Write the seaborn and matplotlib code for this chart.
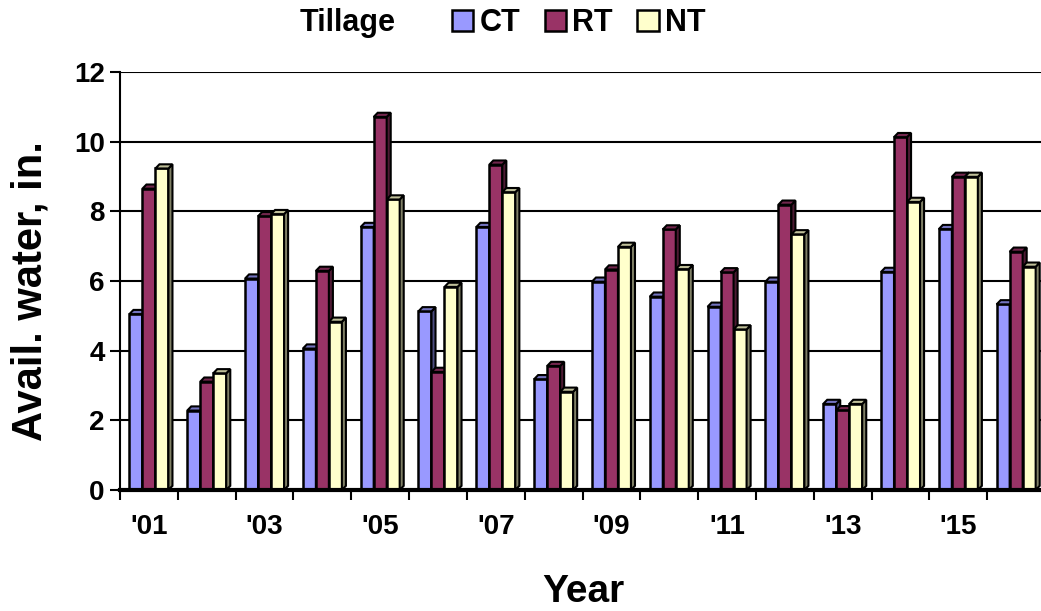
import numpy as np
import pandas as pd
import matplotlib.pyplot as plt
import seaborn as sns
from matplotlib.patches import Patch, Polygon
from matplotlib.ticker import FixedLocator
from matplotlib.colors import to_rgb

# ==============================
# Datos
# ==============================
years = list(range(2001, 2017))
tillage = ['CT', 'RT', 'NT']
ct = [5.05, 2.28, 6.07, 4.06, 7.55, 5.13, 7.55, 3.18, 5.98, 5.55, 5.26, 5.98, 2.47, 6.26, 7.49, 5.33]
rt = [8.65, 3.11, 7.86, 6.29, 10.71, 3.39, 9.34, 3.56, 6.33, 7.48, 6.25, 8.19, 2.29, 10.13, 8.99, 6.84]
nt = [9.23, 3.35, 7.92, 4.83, 8.34, 5.83, 8.55, 2.82, 6.98, 6.34, 4.61, 7.34, 2.47, 8.27, 8.99, 6.41]
year_labels = ["'01", "'03", "'05", "'07", "'09", "'11", "'13", "'15"]

colors = {'CT': '#9999FF', 'RT': '#993366', 'NT': '#FFFFCC'}

df = pd.DataFrame({
    'Year': [str(y) for y in years] * 3,
    'Tillage': ['CT'] * 16 + ['RT'] * 16 + ['NT'] * 16,
    'Water': ct + rt + nt,
})

sns.set_style('white')
plt.rcParams['font.family'] = ['Liberation Sans', 'DejaVu Sans']
plt.rcParams['font.weight'] = 'bold'
plt.rcParams['text.color'] = 'black'
plt.rcParams['xtick.color'] = 'black'
plt.rcParams['ytick.color'] = 'black'
plt.rcParams['axes.labelcolor'] = 'black'

fig = plt.figure(figsize=(10.41, 6.11), dpi=100)
ax = fig.add_axes([120 / 1041, 1 - 490 / 611, 921 / 1041, 418 / 611])

sns.barplot(data=df, x='Year', y='Water', hue='Tillage', hue_order=tillage,
            palette=colors, width=0.675, gap=0, errorbar=None, ax=ax,
            edgecolor='black', linewidth=1.8, saturation=1, legend=False)

ax.set_xlim(-0.5, 15.43)
ax.set_ylim(0, 12)

# efecto 3D: cara superior y lateral de cada barra
dx, dy = 0.07, 0.12
for i, cont in enumerate(ax.containers):
    base = np.array(to_rgb(colors[tillage[i]]))
    for p in cont.patches:
        x, w, h = p.get_x(), p.get_width(), p.get_height()
        p.set_zorder(3 + i)
        top = Polygon([(x, h), (x + dx, h + dy), (x + w + dx, h + dy), (x + w, h)],
                      facecolor=base * 0.75, edgecolor='black', lw=1.5, zorder=3 + i + 0.05)
        side = Polygon([(x + w, 0), (x + w + dx, dy), (x + w + dx, h + dy), (x + w, h)],
                       facecolor=base * 0.5, edgecolor='black', lw=1.5, zorder=3 + i + 0.05)
        ax.add_patch(side)
        ax.add_patch(top)

# rejilla
ax.set_yticks(range(0, 13, 2))
ax.yaxis.grid(True, color='black', linewidth=1.5)
ax.set_axisbelow(True)
ax.tick_params(axis='y', which='major', left=True, length=7, width=1.5,
               labelsize=20, pad=4)
for lab in ax.get_yticklabels():
    lab.set_fontweight('bold')

# eje x: etiquetas cada dos años, marcas en los límites
ax.set_xticks(np.arange(0, 16, 2))
ax.set_xticklabels(year_labels, fontsize=20, fontweight='bold')
ax.xaxis.set_minor_locator(FixedLocator(np.arange(-0.5, 16, 1)))
ax.tick_params(axis='x', which='major', length=0, pad=17)
ax.tick_params(axis='x', which='minor', bottom=True, length=7, width=1.5, direction='out')

for s in ['top', 'right']:
    ax.spines[s].set_visible(False)
ax.spines['left'].set_linewidth(1.5)
ax.spines['left'].set_color('black')
ax.spines['bottom'].set_linewidth(3)
ax.spines['bottom'].set_color('black')
ax.spines['bottom'].set_zorder(10)

ax.set_xlabel('Year', fontsize=28, fontweight='bold')
ax.xaxis.set_label_coords(0.503, -0.244)
ax.xaxis.label.set_va('center')
ax.set_ylabel('Avail. water, in.', fontsize=30, fontweight='bold')
ax.yaxis.set_label_coords(-0.097, 0.477)
ax.yaxis.label.set_va('center')

# leyenda
fig.text(300 / 1041, 1 - 23 / 611, 'Tillage', fontsize=22, fontweight='bold',
         ha='left', va='center')
handles = [Patch(facecolor=colors[t], edgecolor='black', linewidth=1.8, label=t) for t in tillage]
fig.legend(handles=handles, loc='center left', bbox_to_anchor=(452 / 1041, 1 - 23 / 611),
           ncol=3, frameon=False, prop={'size': 22, 'weight': 'bold'},
           handlelength=0.7, handleheight=0.7, handletextpad=0.2, columnspacing=0.8,
           borderaxespad=0, borderpad=0)

fig.savefig('out.png', dpi=100)
